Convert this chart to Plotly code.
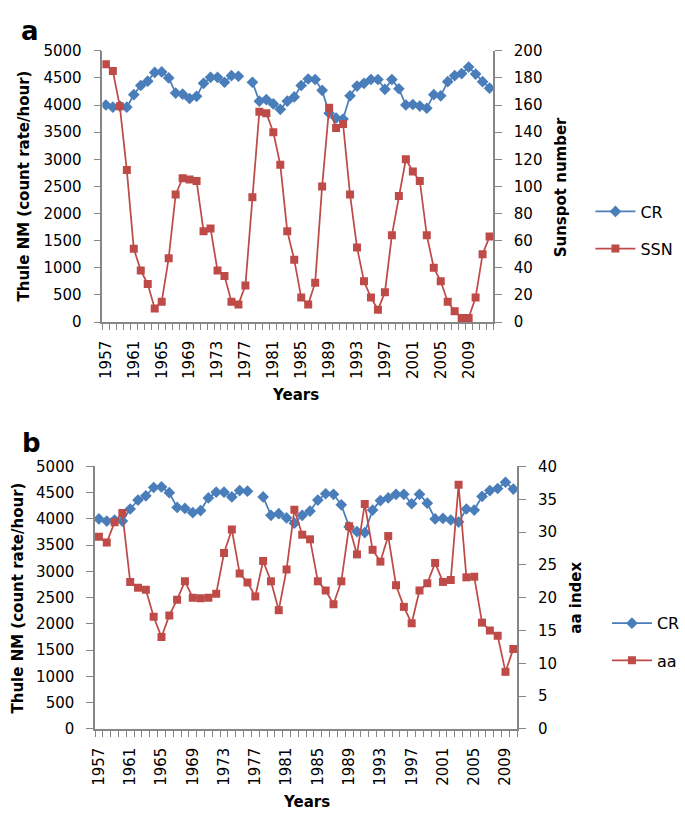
import plotly.graph_objects as go

W, H = 685, 824

# ---------------- data ----------------
years_a = list(range(1957, 2013))
years_b = list(range(1957, 2011))

cr_a = [4000, 3960, 3980, 3960, 4190, 4360, 4440, 4600, 4610, 4500,
        4220, 4200, 4120, 4160, 4400, 4510, 4510, 4420, 4540, 4530,
        None, 4420, 4070, 4100, 4020, 3920, 4070, 4150, 4360, 4480,
        4470, 4270, 3850, 3760, 3740, 4170, 4350, 4400, 4470, 4470,
        4290, 4470, 4300, 4000, 4010, 3980, 3940, 4190, 4170, 4430,
        4540, 4580, 4700, 4570, 4430, 4310]

ssn = [190, 185, 159, 112, 54, 38, 28, 10, 15, 47,
       94, 106, 105, 104, 67, 69, 38, 34, 15, 13,
       27, 92, 155, 154, 140, 116, 67, 46, 18, 13,
       29, 100, 158, 143, 146, 94, 55, 30, 18, 9,
       22, 64, 93, 120, 111, 104, 64, 40, 30, 15,
       8, 3, 3, 18, 50, 63]

cr_b = cr_a[:54]

aa = [29.3, 28.4, 31.5, 32.9, 22.4, 21.5, 21.2, 17.1, 14.0, 17.3,
      19.7, 22.5, 20.0, 19.9, 20.0, 20.6, 26.8, 30.4, 23.7, 22.3,
      20.2, 25.6, 22.5, 18.1, 24.3, 33.4, 29.6, 28.9, 22.5, 21.1,
      19.0, 22.5, 30.9, 26.6, 34.3, 27.3, 25.5, 29.4, 21.9, 18.6,
      16.1, 21.1, 22.2, 25.3, 22.4, 22.7, 37.2, 23.1, 23.2, 16.2,
      15.0, 14.2, 8.7, 12.2]

x_ticks = list(range(1957, 2010, 4))

# ---------------- styling ----------------
BLUE = "#4a7ebb"
RED = "#be4b48"
AX = "#868686"
FONT = "DejaVu Sans"

def px(x):
    return x / W

def py(y):
    return 1 - y / H

fig = go.Figure()

fig.add_trace(go.Scatter(x=years_a, y=cr_a, name="CR", mode="lines+markers",
                         line=dict(color=BLUE, width=1.75),
                         marker=dict(symbol="diamond", size=9, color=BLUE),
                         xaxis="x", yaxis="y", legend="legend", showlegend=True))
fig.add_trace(go.Scatter(x=years_a, y=ssn, name="SSN", mode="lines+markers",
                         line=dict(color=RED, width=1.75),
                         marker=dict(symbol="square", size=8, color=RED),
                         xaxis="x", yaxis="y2", legend="legend2", showlegend=True))
fig.add_trace(go.Scatter(x=years_b, y=cr_b, name="CR", mode="lines+markers",
                         line=dict(color=BLUE, width=1.75),
                         marker=dict(symbol="diamond", size=9, color=BLUE),
                         xaxis="x2", yaxis="y3", legend="legend3", showlegend=True))
fig.add_trace(go.Scatter(x=years_b, y=aa, name="aa", mode="lines+markers",
                         line=dict(color=RED, width=1.75),
                         marker=dict(symbol="square", size=8, color=RED),
                         xaxis="x2", yaxis="y4", legend="legend4", showlegend=True))

tickfont = dict(family=FONT, size=15, color="black")

def xaxis(domain, rng, anchor):
    return dict(domain=domain, range=rng, anchor=anchor,
                tickmode="array", tickvals=x_ticks,
                ticktext=[str(v) for v in x_ticks],
                tickangle=-90, ticks="", ticklabelstandoff=11,
                showline=True, linecolor=AX, linewidth=1.5,
                showgrid=False, zeroline=False, tickfont=tickfont,
                minor=dict(ticks="outside", tick0=1956.5, dtick=1,
                           ticklen=6, tickcolor=AX, tickwidth=1.3,
                           showgrid=False))

def yaxis(domain, rng, dtick, anchor, side="left", overlaying=None):
    d = dict(domain=domain, range=rng, dtick=dtick, tick0=0, anchor=anchor,
             side=side, ticks="outside", ticklen=7, tickcolor=AX,
             tickwidth=1.3, showline=True, linecolor=AX, linewidth=1.5,
             showgrid=False, zeroline=False, tickfont=tickfont,
             ticklabelstandoff=9)
    if overlaying:
        d["overlaying"] = overlaying
    return d

dom_xa = [px(99.3), px(501.7)]
dom_ya = [py(320), py(42.7)]
dom_xb = [px(91.7), px(526.6)]
dom_yb = [py(736), py(467.7)]

legend_common = dict(font=dict(family=FONT, size=16, color="black"),
                     bgcolor="rgba(0,0,0,0)", borderwidth=0,
                     xanchor="left", yanchor="middle", itemwidth=40,
                     visible=True)

fig.update_layout(
    width=W, height=H,
    showlegend=True,
    hovermode=False,
    margin=dict(l=0, r=0, t=0, b=0),
    paper_bgcolor="white", plot_bgcolor="white",
    font=dict(family=FONT, color="black"),
    xaxis=xaxis(dom_xa, [1956.5, 2012.5], "y"),
    yaxis=yaxis(dom_ya, [0, 5000], 500, "x"),
    yaxis2=yaxis(dom_ya, [0, 200], 20, "x", side="right", overlaying="y"),
    xaxis2=xaxis(dom_xb, [1956.5, 2010.5], "y3"),
    yaxis3=yaxis(dom_yb, [0, 5000], 500, "x2"),
    yaxis4=yaxis(dom_yb, [0, 40], 5, "x2", side="right", overlaying="y3"),
    legend=dict(x=px(602), y=py(207), **legend_common),
    legend2=dict(x=px(602), y=py(245), **legend_common),
    legend3=dict(x=px(619), y=py(628), **legend_common),
    legend4=dict(x=px(619), y=py(666), **legend_common),
)

title_font = dict(family=FONT, size=15, color="black")
bold = lambda s: "<b>" + s + "</b>"

annotations = [
    dict(x=px(25), y=py(23), text=bold("a"), font=dict(family=FONT, size=26, color="black"),
         xanchor="center", yanchor="middle"),
    dict(x=px(26), y=py(444), text=bold("b"), font=dict(family=FONT, size=26, color="black"),
         xanchor="center", yanchor="middle"),
    dict(x=px(19), y=py(181), text=bold("Thule NM (count rate/hour)"), textangle=-90,
         font=title_font, xanchor="center", yanchor="middle"),
    dict(x=px(572), y=py(182), text=bold("Sunspot number"), textangle=-90,
         font=title_font, xanchor="center", yanchor="middle"),
    dict(x=px(298), y=py(395), text=bold("Years"),
         font=title_font, xanchor="center", yanchor="middle"),
    dict(x=px(12), y=py(602), text=bold("Thule NM (count rate/hour)"), textangle=-90,
         font=title_font, xanchor="center", yanchor="middle"),
    dict(x=px(587), y=py(602), text=bold("aa index"), textangle=-90,
         font=title_font, xanchor="center", yanchor="middle"),
    dict(x=px(310), y=py(811), text=bold("Years"),
         font=title_font, xanchor="center", yanchor="middle"),
]
for a in annotations:
    a.update(xref="paper", yref="paper", showarrow=False)
fig.update_layout(annotations=annotations)

fig.write_html("out.html",
               config={"displayModeBar": False},
               post_script="document.body.style.margin='0';"
                           "document.body.style.overflow='hidden';")
